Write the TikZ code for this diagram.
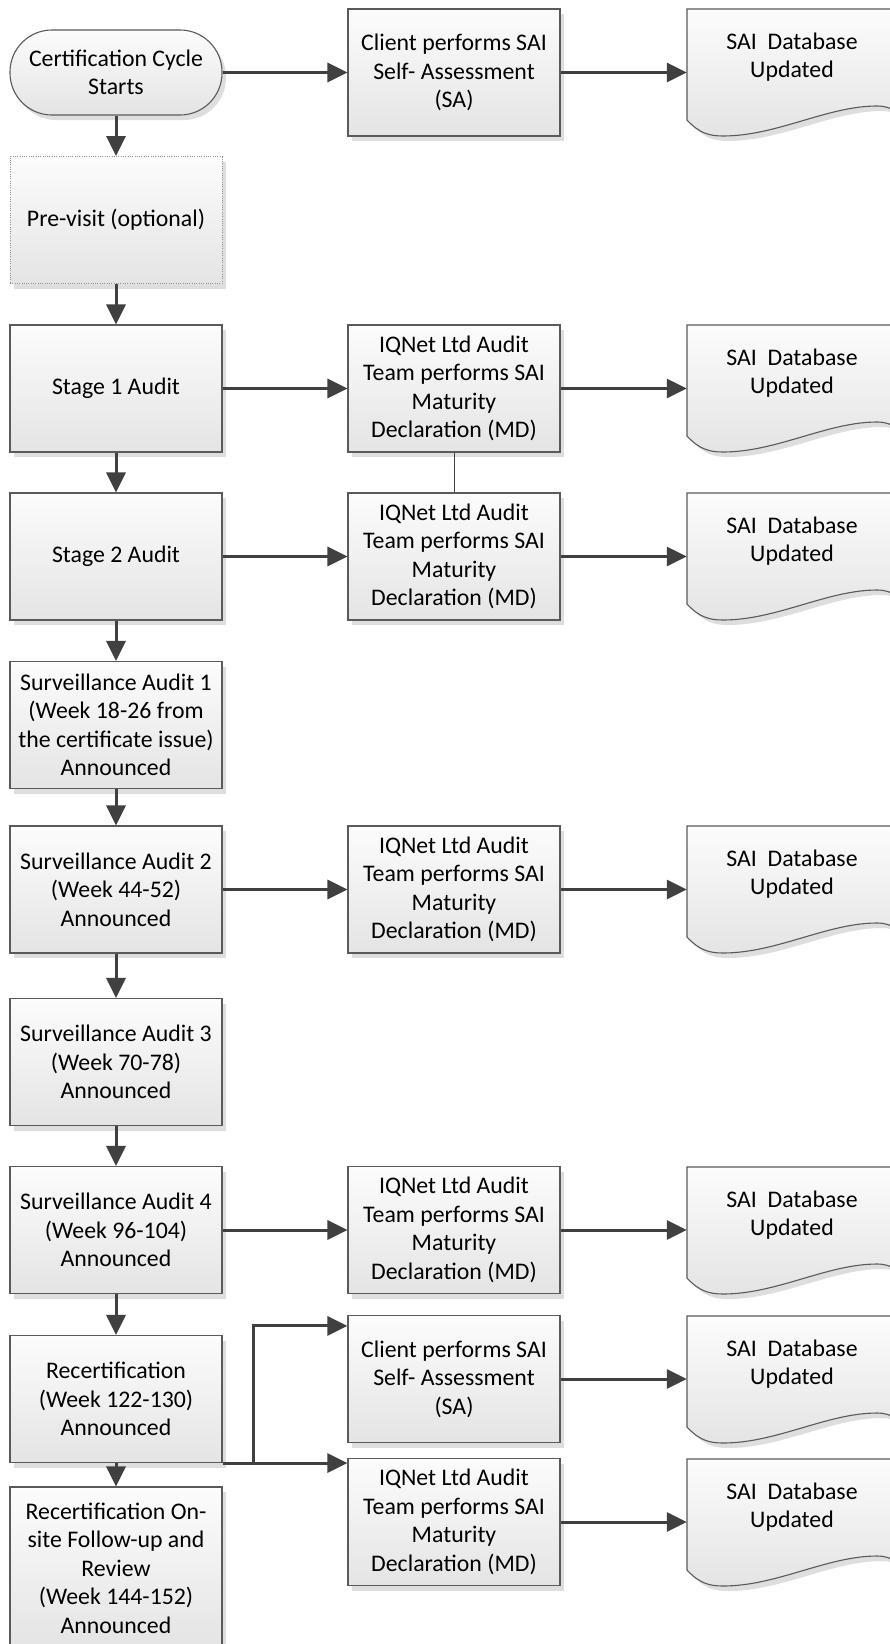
\documentclass[tikz,border=0pt]{standalone}
\usepackage{fontspec}
\setmainfont{Carlito}
\usetikzlibrary{arrows.meta,shadows,calc}
\definecolor{arrc}{HTML}{404040}
\definecolor{bordc}{HTML}{5A5A5A}
\definecolor{shadc}{HTML}{DEDEDE}
\definecolor{boxtop}{HTML}{FCFCFC}
\definecolor{boxbot}{HTML}{E4E4E4}
\tikzset{
  lbl/.style={font=\fontsize{23.8pt}{28.5pt}\selectfont, text=black, align=center},
  box/.style={lbl, rectangle, draw=bordc, line width=1.1pt, top color=boxtop, bottom color=boxbot,
    minimum width=212pt, minimum height=127pt, inner sep=0pt,
    general shadow={fill=shadc, shadow xshift=4pt, shadow yshift=-5pt}},
  termbox/.style={box, rounded corners=42pt, minimum height=85pt},
  prebox/.style={box, draw=gray!85, dash pattern=on 1pt off 1.3pt, line width=0.9pt},
  arr/.style={draw=arrc, line width=3pt, -{Triangle[length=20pt,width=19pt]}},
  thinline/.style={draw=arrc, line width=1pt},
  docp/.style={insert path={(0,0) -- (210,0) -- (210,103) .. controls (204,99) and (198,97) .. (190,97)
    .. controls (140,97) and (90,127) .. (36,127) .. controls (22,127) and (12,124) .. (0,111) -- cycle}}
}
\newcommand{\dbdoc}[3]{%
  \path[fill=shadc, shift={(#2-105+5,#3+5)}, docp];
  \path[draw=bordc, line width=1.1pt, top color=boxtop, bottom color=boxbot, shift={(#2-105,#3)}, docp];
  \node[lbl, minimum width=210pt, minimum height=96pt, inner sep=0pt] (#1) at (#2,#3+48) {SAI\ \ Database\\Updated};
}
\newcommand{\iqtext}{IQNet Ltd Audit\\Team performs SAI\\Maturity\\Declaration (MD)}
\begin{document}
\begin{tikzpicture}[x=1pt,y=-1pt]
\path[use as bounding box, fill=white] (0,0) rectangle (889,1644);
\node[termbox] (term) at (116,72.5) {Certification Cycle\\Starts};
\node[box] (c1) at (454,72.5) {Client performs SAI\\Self- Assessment\\(SA)};
\dbdoc{d1}{792}{9}
\node[prebox] (pre) at (116,220) {Pre-visit (optional)};
\node[box] (s1) at (116,388.5) {Stage 1 Audit};
\node[box] (m1) at (454,388.5) {\iqtext};
\dbdoc{d2}{792}{325}
\node[box] (s2) at (116,556.5) {Stage 2 Audit};
\node[box] (m2) at (454,556.5) {\iqtext};
\dbdoc{d3}{792}{493}
\node[box] (v1) at (116,725) {Surveillance Audit 1\\(Week 18-26 from\\the certificate issue)\\Announced};
\node[box] (v2) at (116,889.5) {Surveillance Audit 2\\(Week 44-52)\\Announced};
\node[box] (m3) at (454,889.5) {\iqtext};
\dbdoc{d4}{792}{826}
\node[box] (v3) at (116,1062) {Surveillance Audit 3\\(Week 70-78)\\Announced};
\node[box] (v4) at (116,1230) {Surveillance Audit 4\\(Week 96-104)\\Announced};
\node[box] (m4) at (454,1230) {\iqtext};
\dbdoc{d5}{792}{1167}
\node[box] (rc) at (116,1399) {Recertification\\(Week 122-130)\\Announced};
\node[box] (c2) at (454,1379) {Client performs SAI\\Self- Assessment\\(SA)};
\dbdoc{d6}{792}{1316}
\node[box] (m5) at (454,1522) {\iqtext};
\dbdoc{d7}{792}{1459}
\node[box, minimum height=162pt] (fu) at (116,1568) {Recertification On-\\site Follow-up and\\Review\\(Week 144-152)\\Announced};
% horizontal arrows
\draw[arr] (term.east) -- (c1.west);
\draw[arr] (c1.east) -- (c1.east -| d1.west);
\draw[arr] (s1.east) -- (m1.west);
\draw[arr] (m1.east) -- (m1.east -| d2.west);
\draw[arr] (s2.east) -- (m2.west);
\draw[arr] (m2.east) -- (m2.east -| d3.west);
\draw[arr] (v2.east) -- (m3.west);
\draw[arr] (m3.east) -- (m3.east -| d4.west);
\draw[arr] (v4.east) -- (m4.west);
\draw[arr] (m4.east) -- (m4.east -| d5.west);
\draw[arr] (c2.east) -- (c2.east -| d6.west);
\draw[arr] (m5.east) -- (m5.east -| d7.west);
\draw[arr] (rc.south east) -- (rc.south east -| m5.west);
\draw[arr] (rc.south east) -- ++(31,0) |- ($(c2.north west)+(0,11)$);
% vertical arrows
\draw[arr] (term.south) -- (pre.north);
\draw[arr] (pre.south) -- (s1.north);
\draw[arr] (s1.south) -- (s2.north);
\draw[arr] (s2.south) -- (v1.north);
\draw[arr] (v1.south) -- (v2.north);
\draw[arr] (v2.south) -- (v3.north);
\draw[arr] (v3.south) -- (v4.north);
\draw[arr] (v4.south) -- (rc.north);
\draw[arr] (rc.south) -- (fu.north);
\draw[thinline] (m1.south) -- (m2.north);
\end{tikzpicture}
\end{document}
